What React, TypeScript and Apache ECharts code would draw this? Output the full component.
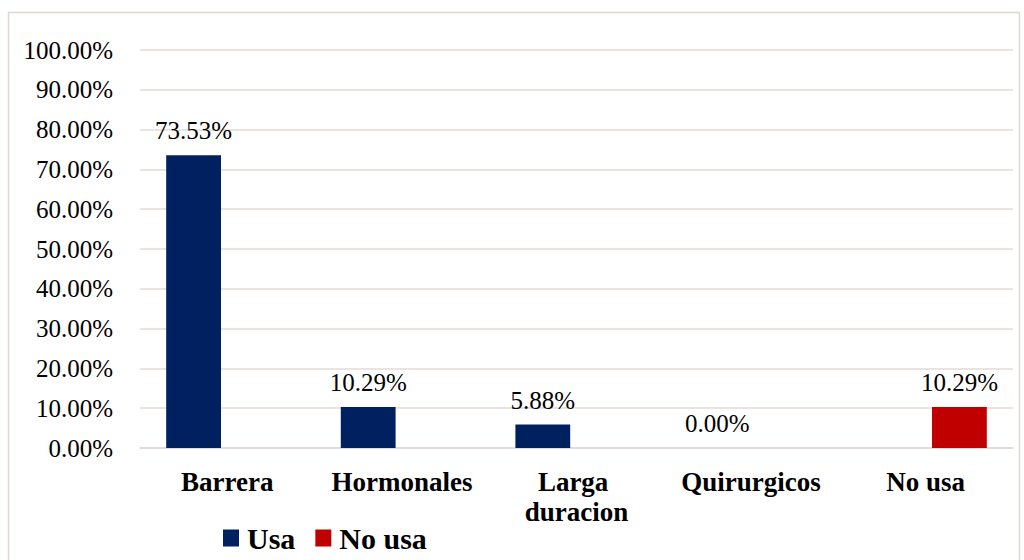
import React, { useEffect, useRef } from "react";
import * as echarts from "echarts";

const categories = ["Barrera", "Hormonales", "Larga duracion", "Quirurgicos", "No usa"];
const usaValues: (number | null)[] = [73.53, 10.29, 5.88, 0.0, null];
const noUsaValues: (number | null)[] = [null, null, null, null, 10.29];
const seriesNames = ["Usa", "No usa"];
const seriesColors = ["#002060", "#C00000"];

const FONT = "Liberation Serif";

export default function App() {
  const ref = useRef<HTMLDivElement>(null);
  useEffect(() => {
    if (!ref.current) return;
    const chart = echarts.init(ref.current, null, { renderer: "svg" });
    const labelCfg = {
      show: true,
      position: "top",
      distance: 12,
      fontFamily: FONT,
      fontSize: 25,
      color: "#000",
      formatter: (p: any) => `${Number(p.value).toFixed(2)}%`,
    };
    chart.setOption({
      animation: false,
      backgroundColor: "#ffffff",
      textStyle: { fontFamily: FONT },
      graphic: [
        {
          type: "rect",
          shape: { x: 8.5, y: 12.5, width: 1011, height: 600 },
          style: { fill: "none", stroke: "#e0d7d3", lineWidth: 1.5 },
          silent: true,
        },
      ],
      legend: {
        left: 218,
        top: 518,
        itemWidth: 16,
        itemHeight: 17,
        itemGap: 20,
        icon: "rect",
        textStyle: {
          fontFamily: FONT,
          fontSize: 30,
          fontWeight: "bold",
          color: "#000",
          padding: [0, 0, 0, 3],
        },
        data: seriesNames,
      },
      grid: { left: 140, right: 11, top: 50, bottom: 112, containLabel: false },
      xAxis: {
        type: "category",
        data: categories,
        axisLine: { show: true, lineStyle: { color: "#e3dad6", width: 1.5 } },
        axisTick: { show: false },
        axisLabel: {
          fontFamily: FONT,
          fontSize: 27,
          fontWeight: "bold",
          color: "#000",
          margin: 19,
          width: 160,
          overflow: "break",
          lineHeight: 30,
          interval: 0,
        },
      },
      yAxis: {
        type: "value",
        min: 0,
        max: 100,
        interval: 10,
        axisLine: { show: false },
        axisTick: { show: false },
        splitLine: { lineStyle: { color: "#e3dad6", width: 1.5 } },
        axisLabel: {
          fontFamily: FONT,
          fontSize: 25,
          color: "#000",
          margin: 27,
          formatter: (v: number) => `${v.toFixed(2)}%`,
        },
      },
      series: [
        {
          name: seriesNames[0],
          type: "bar",
          data: usaValues,
          itemStyle: { color: seriesColors[0] },
          barGap: "23%",
          barCategoryGap: "30%",
          label: labelCfg,
        },
        {
          name: seriesNames[1],
          type: "bar",
          data: noUsaValues,
          itemStyle: { color: seriesColors[1] },
          barGap: "23%",
          barCategoryGap: "30%",
          label: labelCfg,
        },
      ],
    });
    return () => chart.dispose();
  }, []);
  return (
    <div
      ref={ref}
      style={{ position: "fixed", left: 0, top: 0, width: 1024, height: 560 }}
    />
  );
}
